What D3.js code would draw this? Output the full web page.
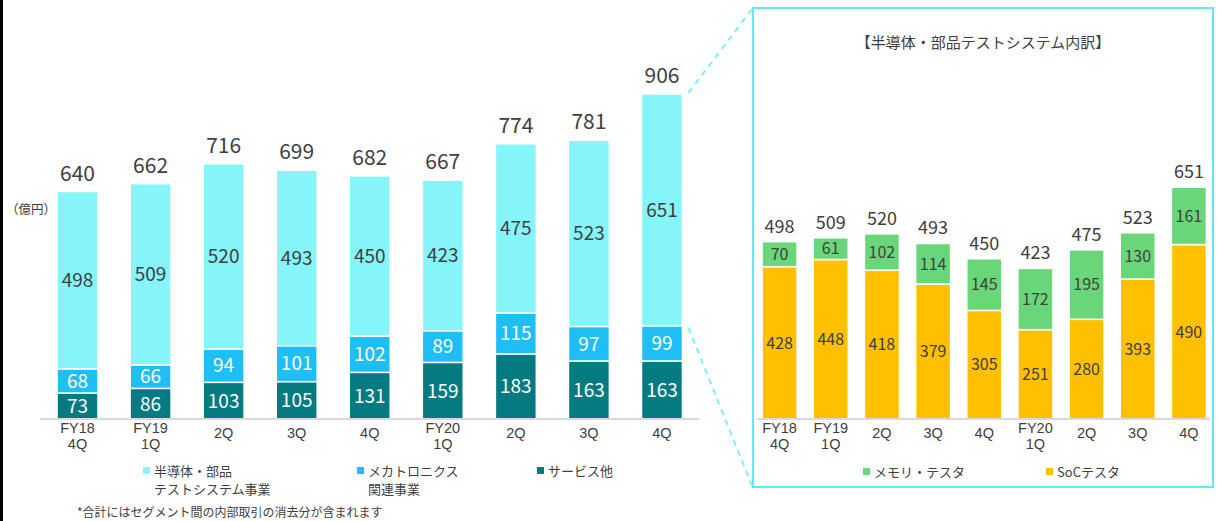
<!DOCTYPE html>
<html>
<head>
<meta charset="utf-8">
<script src="https://cdn.jsdelivr.net/npm/d3@7"></script>
<style>
    body { margin: 0; background: #fff; }
    svg { display: block; font-family: "Noto Sans CJK JP", "Noto Sans", sans-serif; }
    .axis .domain { stroke: #d9d9d9; stroke-width: 2; }
    .axis .tick line { display: none; }
    .axis .tick text { fill: #404040; }
</style>
</head>
<body>
<div id="chart"></div>
<script>
// --- data
const yearLabels = ['FY18', 'FY19', '', '', '', 'FY20', '', '', ''];
const quarterLabels = ['4Q', '1Q', '2Q', '3Q', '4Q', '1Q', '2Q', '3Q', '4Q'];
const semiTest = [498, 509, 520, 493, 450, 423, 475, 523, 651];
const mechatronics = [68, 66, 94, 101, 102, 89, 115, 97, 99];
const services = [73, 86, 103, 105, 131, 159, 183, 163, 163];
const totals = [640, 662, 716, 699, 682, 667, 774, 781, 906];
const memoryTester = [70, 61, 102, 114, 145, 172, 195, 130, 161];
const socTester = [428, 448, 418, 379, 305, 251, 280, 393, 490];

const C_SEMI = '#85f5fa', C_MECHA = '#1fbef4', C_SERV = '#047b80';
const C_MEM = '#6ad67a', C_SOC = '#ffc000';
const TEXT = '#404040';

const W = 1217, H = 521, BASE = 419;

const svg = d3.select('#chart').append('svg').attr('width', W).attr('height', H);

// left frame edge
svg.append('line').attr('x1', 1.5).attr('x2', 1.5).attr('y1', 0).attr('y2', H)
    .attr('stroke', '#000').attr('stroke-width', 3);

const idx = d3.range(quarterLabels.length);
const y = d3.scaleLinear().domain([0, 1000]).range([BASE, BASE - 356]);

function drawStack(keys, colors, labelColors, x, fontSize) {
    const rows = idx.map(i => {
        const r = { i };
        keys.forEach(k => { r[k.name] = k.values[i]; });
        return r;
    });
    const series = d3.stack().keys(keys.map(k => k.name))(rows);
    const g = svg.append('g');
    series.forEach((s, si) => {
        g.selectAll(null).data(s).enter().append('rect')
            .attr('x', d => x(d.data.i))
            .attr('width', x.bandwidth())
            .attr('y', d => y(d[1]))
            .attr('height', d => y(d[0]) - y(d[1]))
            .attr('fill', colors[si])
            .attr('stroke', '#fff')
            .attr('stroke-width', 1.5);
        g.selectAll(null).data(s).enter().append('text')
            .attr('x', d => x(d.data.i) + x.bandwidth() / 2)
            .attr('y', d => (y(d[0]) + y(d[1])) / 2)
            .attr('dy', '0.36em')
            .attr('text-anchor', 'middle')
            .attr('font-size', fontSize)
            .attr('fill', labelColors[si])
            .text(d => d[1] - d[0]);
    });
    return series[series.length - 1];
}

function drawAxis(x, x0, x1) {
    // two-line tick labels: year on top, quarter below
    const axis = d3.axisBottom(x).tickSize(0).tickPadding(4).tickFormat(i => yearLabels[i]);
    const ga = svg.append('g').attr('class', 'axis').attr('transform', `translate(0,${BASE})`).call(axis);
    ga.select('.domain').attr('d', `M${x0},0H${x1}`);
    ga.selectAll('.tick text').attr('font-size', 14.5).attr('font-family', 'inherit')
        .each(function (i) {
            d3.select(this).append('tspan').attr('x', 0).attr('dy', '1.05em').text(quarterLabels[i]);
        });
}

function legendItem(px, py, color, lines, fontSize) {
    svg.append('rect').attr('x', px).attr('y', py - 4).attr('width', 7).attr('height', 7).attr('fill', color);
    lines.forEach((t, k) => {
        svg.append('text').attr('x', px + 11).attr('y', py + k * 18).attr('dy', '0.36em')
            .attr('font-size', fontSize).attr('fill', TEXT).text(t);
    });
}

// --- left chart
const xL = d3.scaleBand().domain(idx).range([41, 698.5]).paddingInner(0.44).paddingOuter(0.22);
const topL = drawStack(
    [{ name: 'serv', values: services }, { name: 'mecha', values: mechatronics }, { name: 'semi', values: semiTest }],
    [C_SERV, C_MECHA, C_SEMI], ['#fff', '#fff', TEXT], xL, 19);
svg.append('g').selectAll('text').data(topL).enter().append('text')
    .attr('x', d => xL(d.data.i) + xL.bandwidth() / 2)
    .attr('y', d => y(d[1]) - 11)
    .attr('text-anchor', 'middle')
    .attr('font-size', 21)
    .attr('fill', TEXT)
    .text(d => totals[d.data.i]);
drawAxis(xL, 40, 699);

svg.append('text').attr('x', 6).attr('y', 209).attr('dy', '0.36em')
    .attr('font-size', 12.5).attr('fill', TEXT).text('（億円）');

legendItem(143, 471, C_SEMI, ['半導体・部品', 'テストシステム事業'], 13);
legendItem(357, 471, C_MECHA, ['メカトロニクス', '関連事業'], 13);
legendItem(537, 471, C_SERV, ['サービス他'], 13);

svg.append('text').attr('x', 77).attr('y', 513).attr('dy', '0.36em')
    .attr('font-size', 12).attr('fill', TEXT).text('*合計にはセグメント間の内部取引の消去分が含まれます');

// --- zoom connectors and right panel
const lastX = xL(idx[idx.length - 1]) + xL.bandwidth();
svg.append('line').attr('x1', lastX + 6).attr('y1', y(913) - 1).attr('x2', 752).attr('y2', 9)
    .attr('stroke', '#7ff0f8').attr('stroke-width', 2).attr('stroke-dasharray', '6,5');
svg.append('line').attr('x1', lastX + 6).attr('y1', y(262) + 2).attr('x2', 752).attr('y2', 486)
    .attr('stroke', '#7ff0f8').attr('stroke-width', 2).attr('stroke-dasharray', '6,5');
svg.append('rect').attr('x', 753).attr('y', 8).attr('width', 460).attr('height', 479)
    .attr('fill', 'none').attr('stroke', '#5cecf5').attr('stroke-width', 2);

svg.append('text').attr('x', 983).attr('y', 43).attr('dy', '0.36em').attr('text-anchor', 'middle')
    .attr('font-size', 15).attr('fill', TEXT).text('【半導体・部品テストシステム内訳】');

const xR = d3.scaleBand().domain(idx).range([754, 1214.5]).paddingInner(0.316).paddingOuter(0.158);
const topR = drawStack(
    [{ name: 'soc', values: socTester }, { name: 'mem', values: memoryTester }],
    [C_SOC, C_MEM], [TEXT, TEXT], xR, 16);
svg.append('g').selectAll('text').data(topR).enter().append('text')
    .attr('x', d => xR(d.data.i) + xR.bandwidth() / 2)
    .attr('y', d => y(d[1]) - 9)
    .attr('text-anchor', 'middle')
    .attr('font-size', 18)
    .attr('fill', TEXT)
    .text(d => semiTest[d.data.i]);
drawAxis(xR, 757, 1210);

legendItem(863, 472, C_MEM, ['メモリ・テスタ'], 13);
legendItem(1046, 472, C_SOC, ['SoCテスタ'], 13);
</script>
</body>
</html>
